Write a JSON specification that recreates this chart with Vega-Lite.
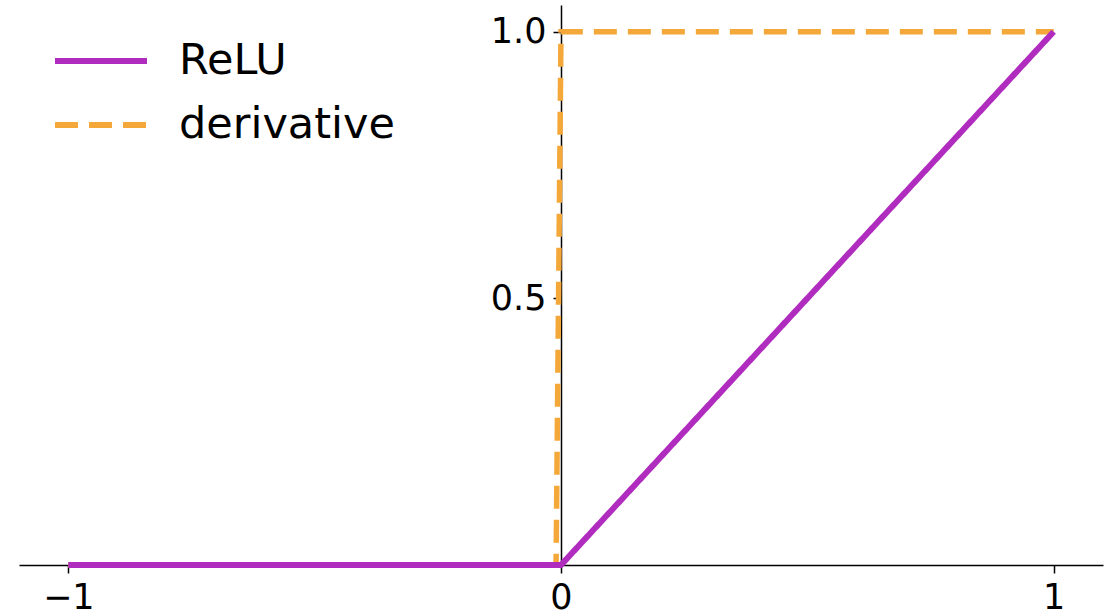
{
  "$schema": "https://vega.github.io/schema/vega-lite/v6.json",
  "width": 1084,
  "height": 560,
  "autosize": {"type": "none"},
  "padding": {"left": 19, "top": 5, "right": 6, "bottom": 50},
  "background": "white",
  "config": {
    "view": {"stroke": null},
    "font": "DejaVu Sans",
    "axis": {
      "grid": false,
      "title": null,
      "domainColor": "black",
      "domainWidth": 1.5,
      "tickColor": "black",
      "tickWidth": 1.5,
      "tickSize": 8,
      "labelFont": "DejaVu Sans",
      "labelFontSize": 35,
      "labelColor": "black"
    },
    "legend": {
      "orient": "none",
      "legendX": 33,
      "legendY": 31,
      "title": null,
      "padding": 0,
      "symbolType": "stroke",
      "symbolSize": 8464,
      "symbolStrokeWidth": 6,
      "labelFont": "DejaVu Sans",
      "labelFontSize": 43,
      "labelColor": "black",
      "labelOffset": 29,
      "labelLimit": 0,
      "clipHeight": 50,
      "rowPadding": 14
    }
  },
  "data": {
    "values": [
      {"series": "derivative", "idx": 0, "x": -1, "y": 0},
      {"series": "derivative", "idx": 1, "x": -0.01, "y": 0},
      {"series": "derivative", "idx": 2, "x": 0, "y": 1},
      {"series": "derivative", "idx": 3, "x": 1, "y": 1},
      {"series": "ReLU", "idx": 0, "x": -1, "y": 0},
      {"series": "ReLU", "idx": 1, "x": 0, "y": 0},
      {"series": "ReLU", "idx": 2, "x": 1, "y": 1}
    ]
  },
  "encoding": {
    "x": {
      "field": "x",
      "type": "quantitative",
      "scale": {"domain": [-1.1, 1.1], "nice": false, "zero": false},
      "axis": {"values": [-1, 0, 1], "format": "d", "labelPadding": 7}
    },
    "y": {
      "field": "y",
      "type": "quantitative",
      "scale": {"domain": [0, 1.05], "nice": false},
      "axis": {"values": [0.5, 1], "format": ".1f", "offset": -542, "labelPadding": 7}
    },
    "order": {"field": "idx"},
    "color": {
      "field": "series",
      "type": "nominal",
      "scale": {"domain": ["ReLU", "derivative"], "range": ["#b02cbf", "#f5a83a"]}
    },
    "strokeDash": {
      "field": "series",
      "type": "nominal",
      "scale": {"domain": ["ReLU", "derivative"], "range": [[1, 0], [23, 11]]}
    }
  },
  "layer": [
    {
      "transform": [{"filter": "datum.series === 'derivative'"}],
      "mark": {"type": "line", "strokeWidth": 5.5, "strokeCap": "butt"}
    },
    {
      "transform": [{"filter": "datum.series === 'ReLU'"}],
      "mark": {"type": "line", "strokeWidth": 6, "strokeCap": "butt"}
    }
  ]
}
